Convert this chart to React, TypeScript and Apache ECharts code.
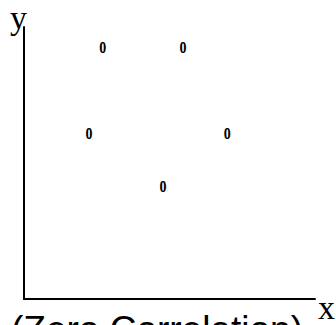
import React, { useEffect, useRef } from "react";
import * as echarts from "echarts";

const xValues = [2.71, 5.46, 2.23, 6.98, 4.78];
const yValues = [9.33, 9.33, 6.16, 6.16, 4.23];
const pointLabel = "o";
const xName = "x";
const yName = "y";
const caption = "(Zero Correlation)";

export default function App() {
  const ref = useRef<HTMLDivElement>(null);
  useEffect(() => {
    document.body.style.margin = "0";
    const chart = echarts.init(ref.current!, null, { renderer: "svg" });
    const axisCommon = {
      type: "value" as const,
      min: 0,
      max: 10,
      axisLine: { show: true, lineStyle: { color: "#000", width: 2 } },
      axisTick: { show: false },
      axisLabel: { show: false },
      splitLine: { show: false },
    };
    chart.setOption({
      animation: false,
      backgroundColor: "#fff",
      grid: { left: 24, top: 27, right: 21, bottom: 26, containLabel: false },
      xAxis: axisCommon,
      yAxis: axisCommon,
      series: [
        {
          type: "custom",
          data: xValues.map((x, i) => [x, yValues[i]]),
          renderItem: (params: any, api: any) => {
            const p = api.coord([api.value(0), api.value(1)]);
            return {
              type: "text",
              x: p[0],
              y: p[1],
              scaleY: 1.6,
              style: {
                text: pointLabel,
                fill: "#000",
                font: "bold 14px 'Liberation Serif'",
                align: "center",
                verticalAlign: "middle",
              },
            };
          },
        },
      ],
      graphic: [
        {
          type: "text",
          left: 10,
          top: 0,
          style: {
            text: yName,
            fill: "#000",
            font: "34px 'Liberation Serif'",
            lineHeight: 18,
          },
        },
        {
          type: "text",
          left: 318,
          top: 290,
          style: {
            text: xName,
            fill: "#000",
            font: "34px 'Liberation Serif'",
          },
        },
        {
          type: "text",
          left: 11,
          top: 311,
          style: {
            text: caption,
            fill: "#000",
            font: "37px 'Liberation Sans'",
          },
        },
      ],
    });
    return () => chart.dispose();
  }, []);
  return <div ref={ref} style={{ width: 336, height: 325 }} />;
}
